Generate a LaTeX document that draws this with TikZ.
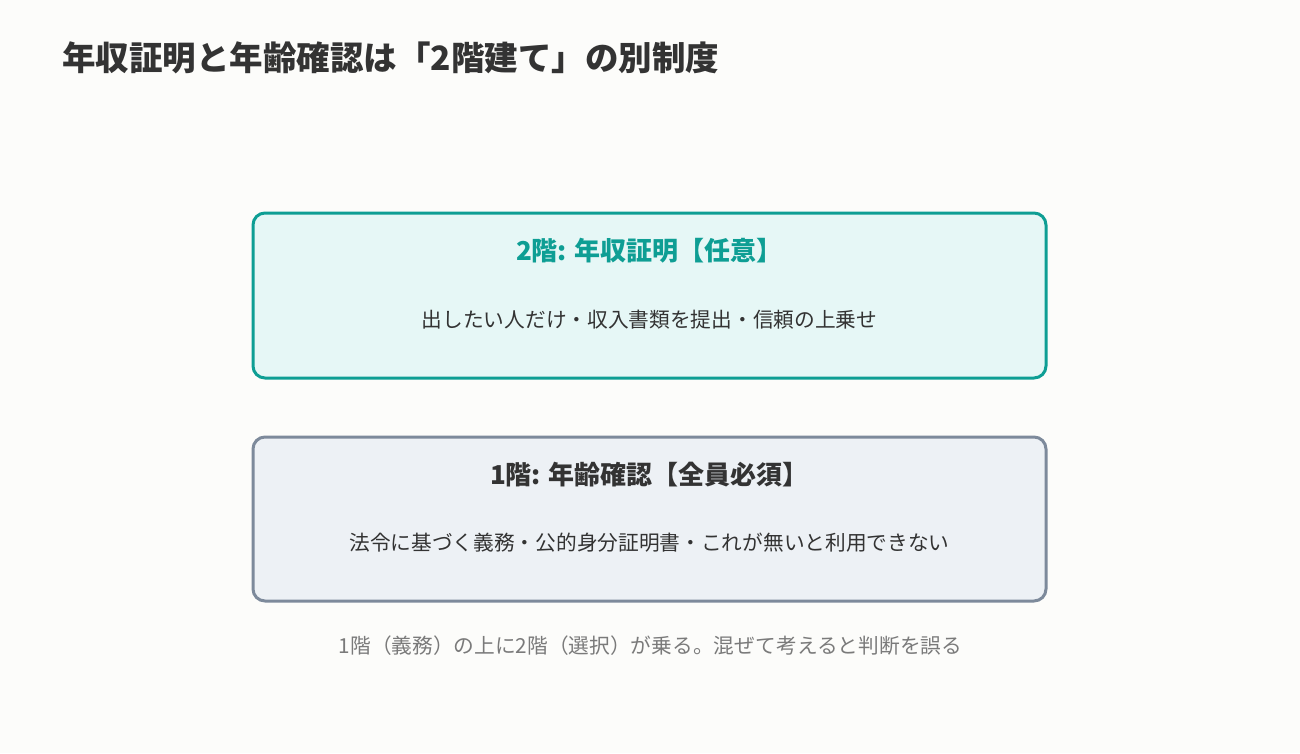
\documentclass[tikz,border=0pt]{standalone}
\usepackage{fontspec}
\setmainfont{Noto Sans CJK JP}
\definecolor{bgc}{HTML}{FCFCFA}
\definecolor{teal2}{HTML}{0E9E94}
\definecolor{tealfill}{HTML}{E6F7F6}
\definecolor{slateb}{HTML}{7D8A9B}
\definecolor{slatefill}{HTML}{EDF1F5}
\definecolor{darktxt}{HTML}{333333}
\definecolor{graytxt}{HTML}{7A7A7A}
\tikzset{
  floorbox/.style={rectangle, rounded corners=12pt, line width=3pt, minimum width=793pt, inner sep=0pt},
  boxtitle/.style={anchor=base, inner sep=0pt, font=\fontsize{26}{30}\selectfont\bfseries},
  boxsub/.style={anchor=base, inner sep=0pt, text=darktxt, font=\fontsize{20.7}{24}\selectfont},
}
\begin{document}
\begin{tikzpicture}[x=1pt,y=-1pt]
\fill[bgc] (0,0) rectangle (1300,753);
\useasboundingbox (0,0) rectangle (1300,753);
\node[anchor=base west, inner sep=0pt, text=darktxt, font=\fontsize{33.5}{40}\selectfont\bfseries] (title) at (62,70.7) {年収証明と年齢確認は「2階建て」の別制度};
\node[floorbox, draw=teal2, fill=tealfill, minimum height=165pt] (top) at (649.5,295.5) {};
\node[boxtitle, text=teal2] (toptitle) at (649.5,260.9) {2階: 年収証明【任意】};
\node[boxsub] (topsub) at (649.5,327.9) {出したい人だけ・収入書類を提出・信頼の上乗せ};
\node[floorbox, draw=slateb, fill=slatefill, minimum height=164pt] (bottom) at (649.5,519) {};
\node[boxtitle, text=darktxt] (bottitle) at (649.5,484.9) {1階: 年齢確認【全員必須】};
\node[boxsub] (botsub) at (649.5,550.9) {法令に基づく義務・公的身分証明書・これが無いと利用できない};
\node[anchor=base, inner sep=0pt, text=graytxt, font=\fontsize{20.7}{24}\selectfont] (caption) at (650.5,653.9) {1階（義務）の上に2階（選択）が乗る。混ぜて考えると判断を誤る};
\end{tikzpicture}
\end{document}
